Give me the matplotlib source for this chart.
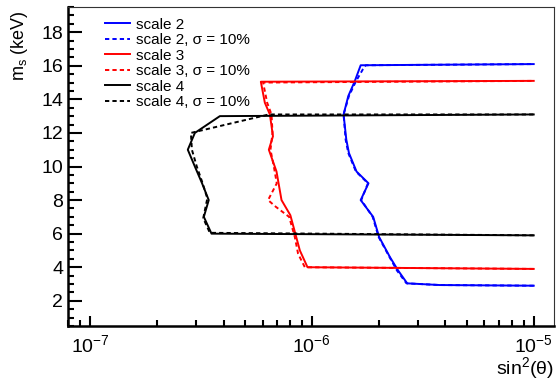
import matplotlib
matplotlib.use('Agg')
import matplotlib.pyplot as plt
from matplotlib.ticker import LogLocator, MultipleLocator, NullFormatter

plt.rcParams['font.family'] = ['Liberation Sans', 'DejaVu Sans']
plt.rcParams['mathtext.fontset'] = 'custom'
plt.rcParams['mathtext.rm'] = 'Liberation Sans'
plt.rcParams['mathtext.it'] = 'Liberation Sans:italic'

# contour points (sin^2 theta, m_s in keV)
s2_x = [1e-5, 3.77e-6, 2.69e-6, 2.45e-6, 2.25e-6, 2.01e-6, 1.89e-6, 1.66e-6, 1.80e-6,
        1.59e-6, 1.47e-6, 1.43e-6, 1.39e-6, 1.46e-6, 1.56e-6, 1.66e-6, 1e-5]
s2_y = [2.9, 2.94, 3.04, 3.8, 4.6, 5.8, 7.0, 8.0, 9.0, 9.7, 10.8, 11.6, 13.1, 14.2, 15.07, 16.03, 16.1]
s2d_x = [1e-5, 3.77e-6, 2.67e-6, 2.42e-6, 2.24e-6, 2.0e-6, 1.88e-6, 1.67e-6, 1.79e-6,
         1.58e-6, 1.46e-6, 1.42e-6, 1.39e-6, 1.47e-6, 1.58e-6, 1.70e-6, 1.75e-6, 1e-5]
s2d_y = [2.9, 2.94, 3.04, 3.8, 4.6, 5.8, 7.0, 8.0, 9.0, 9.7, 10.8, 11.6, 13.1, 14.2, 15.07, 15.8, 16.03, 16.1]

s3_x = [1e-5, 9.56e-7, 8.83e-7, 8.0e-7, 7.30e-7, 6.93e-7, 6.40e-7, 6.68e-7, 6.47e-7,
        6.14e-7, 5.89e-7, 1e-5]
s3_y = [3.9, 4.0, 5.0, 7.1, 8.0, 9.7, 11.0, 11.8, 13.1, 13.8, 15.05, 15.1]
s3d_x = [1e-5, 9.30e-7, 8.67e-7, 8.38e-7, 7.90e-7, 6.88e-7, 6.35e-7, 6.95e-7, 6.74e-7,
         6.51e-7, 6.65e-7, 6.58e-7, 6.29e-7, 6.03e-7, 1e-5]
s3d_y = [3.9, 4.0, 4.8, 5.8, 7.0, 7.6, 8.0, 9.0, 10.0, 11.0, 12.0, 13.1, 13.8, 15.0, 15.1]

s4_x = [1e-5, 3.53e-7, 3.26e-7, 3.43e-7, 3.2e-7, 2.97e-7, 2.76e-7, 2.97e-7, 3.85e-7, 1e-5]
s4_y = [5.9, 6.0, 7.0, 8.0, 9.0, 10.0, 11.0, 12.0, 13.0, 13.1]
s4d_x = [1e-5, 3.47e-7, 3.24e-7, 3.38e-7, 3.22e-7, 3.03e-7, 2.88e-7, 2.85e-7, 6.4e-7, 1e-5]
s4d_y = [5.9, 6.05, 6.92, 8.1, 9.0, 10.0, 11.0, 12.0, 13.1, 13.1]

fig = plt.figure(figsize=(5.56, 3.8), dpi=100)
ax = fig.add_axes([68 / 556, 1 - 326 / 380, 486 / 556, 319 / 380])

dash = (0, (2.2, 1.6))
lw = 1.4
ax.plot(s2_x, s2_y, color='#0000ff', lw=lw, label='scale 2')
ax.plot(s2d_x, s2d_y, color='#0000ff', lw=lw, ls=dash, label='scale 2, σ = 10%')
ax.plot(s3_x, s3_y, color='#ff0000', lw=lw, label='scale 3')
ax.plot(s3d_x, s3d_y, color='#ff0000', lw=lw, ls=dash, label='scale 3, σ = 10%')
ax.plot(s4_x, s4_y, color='black', lw=lw, label='scale 4')
ax.plot(s4d_x, s4d_y, color='black', lw=lw, ls=dash, label='scale 4, σ = 10%')

ax.set_xscale('log')
ax.set_xlim(10 ** -7.099, 10 ** -4.9086)
ax.set_ylim(0.5, 19.5)

ax.xaxis.set_major_locator(LogLocator(base=10, numticks=10))
ax.xaxis.set_minor_locator(LogLocator(base=10, subs=range(2, 10), numticks=20))
ax.xaxis.set_minor_formatter(NullFormatter())
ax.yaxis.set_major_locator(MultipleLocator(2))
ax.yaxis.set_minor_locator(MultipleLocator(0.5))

ax.tick_params(axis='both', which='both', direction='in', top=False, right=False,
               labelsize=14, colors='black')
ax.tick_params(axis='y', which='major', length=10, width=1.5)
ax.tick_params(axis='y', which='minor', length=4.5, width=1.5)
ax.tick_params(axis='x', which='major', length=7.5, width=1.5, pad=6)
ax.tick_params(axis='x', which='minor', length=4, width=1.5)

for side in ['left', 'bottom']:
    ax.spines[side].set_linewidth(1.8)
for side in ['top', 'right']:
    ax.spines[side].set_linewidth(0.8)
    ax.spines[side].set_color('#333333')

# axis titles placed like ROOT: at the far ends of the axes
fig.text(554 / 556, 1 - 368 / 380, r'sin$^{\mathregular{2}}$(θ)', fontsize=14,
         ha='right', va='center')
fig.text(20 / 556, 1 - 10 / 380, r'm$_{\mathregular{s}}$ (keV)', fontsize=13,
         rotation=90, ha='center', va='top')

ax.legend(loc='upper left', bbox_to_anchor=(0.076, 0.967), frameon=False,
          fontsize=11, handlelength=1.65, handletextpad=0.4, labelspacing=0.1,
          borderpad=0, borderaxespad=0)

fig.savefig('out.png', dpi=100)
